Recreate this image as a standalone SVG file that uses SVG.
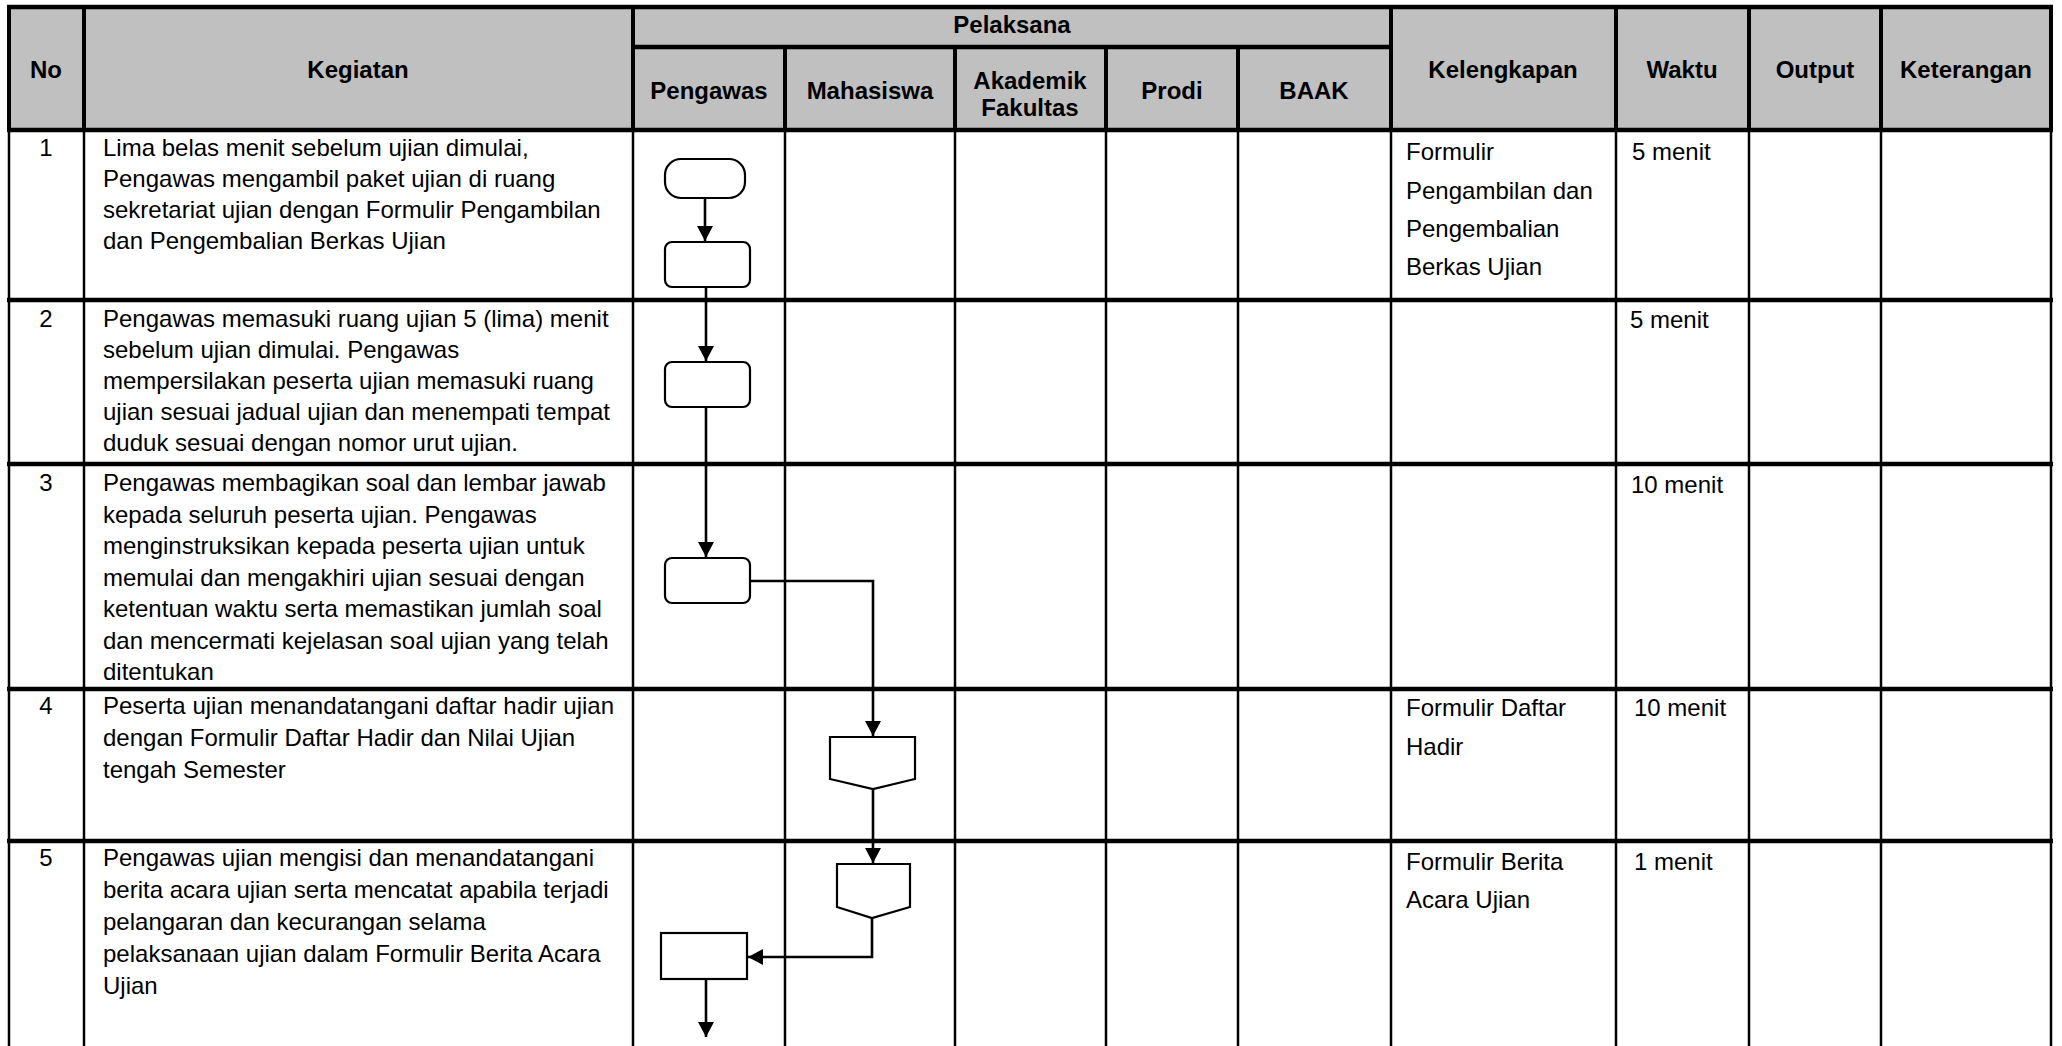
<svg xmlns="http://www.w3.org/2000/svg" width="2062" height="1046" viewBox="0 0 2062 1046">
<style>
.t{font-family:"Liberation Sans",Arial,sans-serif;font-size:24px;fill:#000}
.h{font-weight:bold;text-anchor:middle}
.c{text-anchor:middle}
.gh{stroke:#000;stroke-width:4.5;fill:none}
.gv{stroke:#000;stroke-width:2.5;fill:none}
.gvh{stroke:#000;stroke-width:4;fill:none}
.shape{fill:#fff;stroke:#000;stroke-width:2.2}
.conn{fill:none;stroke:#000;stroke-width:2.6}
</style>
<defs>
<marker id="arr" markerUnits="userSpaceOnUse" markerWidth="16" markerHeight="16" viewBox="0 0 16 16" refX="15" refY="8" orient="auto">
<path d="M0,0 L15,8 L0,16 Z" fill="#000"/>
</marker>
</defs>
<rect width="2062" height="1046" fill="#fff"/>
<g id="table">
<rect x="9" y="7" width="2042" height="123" fill="#C0C0C0"/>
<line class="gh" x1="7" y1="7" x2="2053" y2="7"/>
<line class="gh" x1="633" y1="47" x2="1391" y2="47"/>
<line class="gh" x1="7" y1="130" x2="2053" y2="130"/>
<line class="gvh" x1="9" y1="5" x2="9" y2="132"/>
<line class="gvh" x1="84" y1="5" x2="84" y2="132"/>
<line class="gvh" x1="633" y1="5" x2="633" y2="132"/>
<line class="gvh" x1="785" y1="47" x2="785" y2="132"/>
<line class="gvh" x1="955" y1="47" x2="955" y2="132"/>
<line class="gvh" x1="1106" y1="47" x2="1106" y2="132"/>
<line class="gvh" x1="1238" y1="47" x2="1238" y2="132"/>
<line class="gvh" x1="1391" y1="5" x2="1391" y2="132"/>
<line class="gvh" x1="1616" y1="5" x2="1616" y2="132"/>
<line class="gvh" x1="1749" y1="5" x2="1749" y2="132"/>
<line class="gvh" x1="1881" y1="5" x2="1881" y2="132"/>
<line class="gvh" x1="2051" y1="5" x2="2051" y2="132"/>
<g class="gv">
<line x1="9" y1="130" x2="9" y2="1046"/>
<line x1="84" y1="130" x2="84" y2="1046"/>
<line x1="633" y1="130" x2="633" y2="1046"/>
<line x1="785" y1="130" x2="785" y2="1046"/>
<line x1="955" y1="130" x2="955" y2="1046"/>
<line x1="1106" y1="130" x2="1106" y2="1046"/>
<line x1="1238" y1="130" x2="1238" y2="1046"/>
<line x1="1391" y1="130" x2="1391" y2="1046"/>
<line x1="1616" y1="130" x2="1616" y2="1046"/>
<line x1="1749" y1="130" x2="1749" y2="1046"/>
<line x1="1881" y1="130" x2="1881" y2="1046"/>
<line x1="2051" y1="130" x2="2051" y2="1046"/>
</g>
<line class="gh" x1="7" y1="300" x2="2053" y2="300"/>
<line class="gh" x1="7" y1="464" x2="2053" y2="464"/>
<line class="gh" x1="7" y1="689" x2="2053" y2="689"/>
<line class="gh" x1="7" y1="841" x2="2053" y2="841"/>
</g>
<g id="header-text" class="t h">
<text x="46" y="78">No</text>
<text x="358" y="78">Kegiatan</text>
<text x="1012" y="33">Pelaksana</text>
<text x="709" y="99">Pengawas</text>
<text x="870" y="99">Mahasiswa</text>
<text x="1030" y="89">Akademik</text>
<text x="1030" y="116">Fakultas</text>
<text x="1172" y="99">Prodi</text>
<text x="1314" y="99">BAAK</text>
<text x="1503" y="78">Kelengkapan</text>
<text x="1682" y="78">Waktu</text>
<text x="1815" y="78">Output</text>
<text x="1966" y="78">Keterangan</text>
</g>
<g id="row1" class="t">
<text class="c" x="46" y="156">1</text>
<text x="103" y="156">Lima belas menit sebelum ujian dimulai,</text>
<text x="103" y="187">Pengawas mengambil paket ujian di ruang</text>
<text x="103" y="218">sekretariat ujian dengan Formulir Pengambilan</text>
<text x="103" y="249">dan Pengembalian Berkas Ujian</text>
<text x="1406" y="160">Formulir</text>
<text x="1406" y="199">Pengambilan dan</text>
<text x="1406" y="237">Pengembalian</text>
<text x="1406" y="275">Berkas Ujian</text>
<text x="1632" y="160">5 menit</text>
</g>
<g id="row2" class="t">
<text class="c" x="46" y="327">2</text>
<text x="103" y="327">Pengawas memasuki ruang ujian 5 (lima) menit</text>
<text x="103" y="358">sebelum ujian dimulai. Pengawas</text>
<text x="103" y="389">mempersilakan peserta ujian memasuki ruang</text>
<text x="103" y="420">ujian sesuai jadual ujian dan menempati tempat</text>
<text x="103" y="451">duduk sesuai dengan nomor urut ujian.</text>
<text x="1630" y="328">5 menit</text>
</g>
<g id="row3" class="t">
<text class="c" x="46" y="491">3</text>
<text x="103" y="491">Pengawas membagikan soal dan lembar jawab</text>
<text x="103" y="522.5">kepada seluruh peserta ujian. Pengawas</text>
<text x="103" y="554">menginstruksikan kepada peserta ujian untuk</text>
<text x="103" y="585.5">memulai dan mengakhiri ujian sesuai dengan</text>
<text x="103" y="617">ketentuan waktu serta memastikan jumlah soal</text>
<text x="103" y="648.5">dan mencermati kejelasan soal ujian yang telah</text>
<text x="103" y="680">ditentukan</text>
<text x="1631" y="493">10 menit</text>
</g>
<g id="row4" class="t">
<text class="c" x="46" y="714">4</text>
<text x="103" y="714">Peserta ujian menandatangani daftar hadir ujian</text>
<text x="103" y="746">dengan Formulir Daftar Hadir dan Nilai Ujian</text>
<text x="103" y="778">tengah Semester</text>
<text x="1406" y="716">Formulir  Daftar</text>
<text x="1406" y="755">Hadir</text>
<text x="1634" y="716">10 menit</text>
</g>
<g id="row5" class="t">
<text class="c" x="46" y="866">5</text>
<text x="103" y="866">Pengawas ujian mengisi dan menandatangani</text>
<text x="103" y="898">berita acara ujian serta mencatat apabila terjadi</text>
<text x="103" y="930">pelangaran dan kecurangan selama</text>
<text x="103" y="962">pelaksanaan ujian dalam Formulir Berita Acara</text>
<text x="103" y="994">Ujian</text>
<text x="1406" y="870">Formulir  Berita</text>
<text x="1406" y="908">Acara Ujian</text>
<text x="1634" y="870">1 menit</text>
</g>
<g id="connectors">
<line class="conn" x1="705" y1="198" x2="705" y2="241" marker-end="url(#arr)"/>
<line class="conn" x1="706" y1="287" x2="706" y2="361" marker-end="url(#arr)"/>
<line class="conn" x1="706" y1="407" x2="706" y2="557" marker-end="url(#arr)"/>
<polyline class="conn" points="750,581 873,581 873,736" marker-end="url(#arr)"/>
<line class="conn" x1="873" y1="789" x2="873" y2="863" marker-end="url(#arr)"/>
<polyline class="conn" points="872,918 872,957 748,957" marker-end="url(#arr)"/>
<line class="conn" x1="706" y1="979" x2="706" y2="1037" marker-end="url(#arr)"/>
</g>
<g id="start">
<rect class="shape" x="665" y="159" width="80" height="39" rx="16" ry="16"/>
</g>
<g id="step1">
<rect class="shape" x="665" y="242" width="85" height="45" rx="7" ry="7"/>
</g>
<g id="step2">
<rect class="shape" x="665" y="362" width="85" height="45" rx="7" ry="7"/>
</g>
<g id="step3">
<rect class="shape" x="665" y="558" width="85" height="45" rx="7" ry="7"/>
</g>
<g id="offpage1">
<polygon class="shape" points="830,737 915,737 915,779 873,789 830,779"/>
</g>
<g id="offpage2">
<polygon class="shape" points="837,864 910,864 910,907 872,918 837,907"/>
</g>
<g id="step5">
<rect class="shape" x="661" y="933" width="86" height="46"/>
</g>
</svg>
